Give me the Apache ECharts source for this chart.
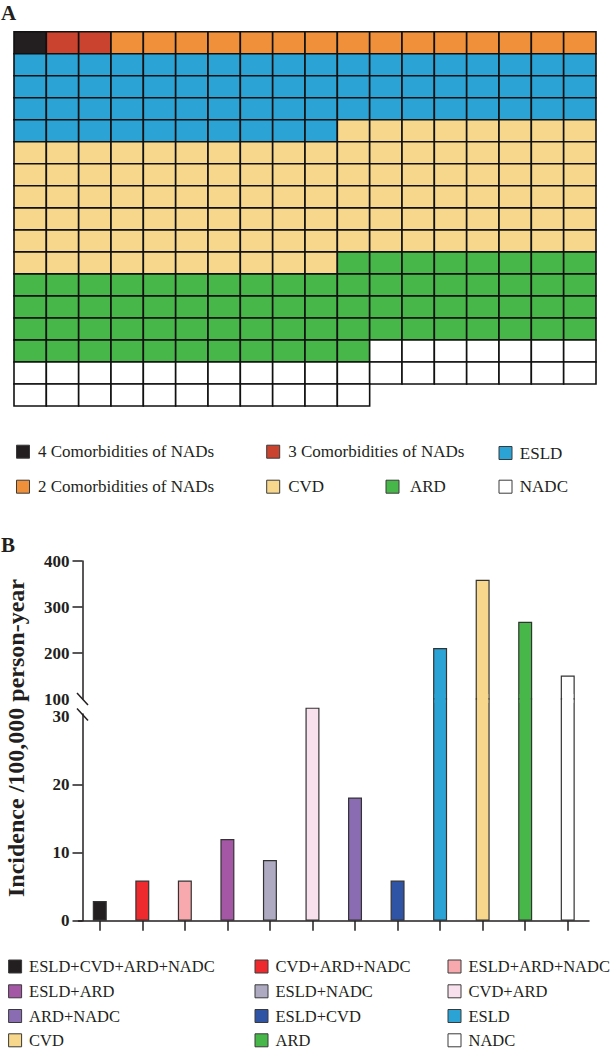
<!DOCTYPE html>
<html>
<head>
<meta charset="utf-8">
<script src="https://cdn.jsdelivr.net/npm/echarts@6/dist/echarts.min.js"></script>
<style>
html,body{margin:0;padding:0;background:#ffffff;}
#chart{width:614px;height:1049px;}
</style>
</head>
<body>
<div id="chart"></div>
<script>
// ---------------- DATA ----------------
const waffleCategories = ['4 Comorbidities of NADs', '3 Comorbidities of NADs', '2 Comorbidities of NADs', 'ESLD', 'CVD', 'ARD', 'NADC'];
const waffleCounts = [1, 2, 15, 64, 108, 73, 36];
const waffleColors = ['#231f20', '#c9432f', '#f0903a', '#2ba3d5', '#f7d78b', '#48b74a', '#ffffff'];
const waffleColumns = 18;
const waffleRows = 17;

const barCategories = ['ESLD+CVD+ARD+NADC', 'CVD+ARD+NADC', 'ESLD+ARD+NADC', 'ESLD+ARD', 'ESLD+NADC', 'CVD+ARD',
  'ARD+NADC', 'ESLD+CVD', 'ESLD', 'CVD', 'ARD', 'NADC'];
const barValues = [2.9, 5.9, 5.9, 12.0, 8.9, 31.3, 18.1, 5.9, 211, 359, 268, 151];
const barColors = ['#231f20', '#ee2a2e', '#f7a9ae', '#a457a4', '#aeaac1', '#f9e0ed', '#8a6cb3', '#3054a5', '#2ba3d5', '#f7d78b', '#48b74a', '#ffffff'];
const upperTickLabels = [100, 200, 300, 400];
const lowerTickLabels = [0, 10, 20, 30];

// ---------------- LAYOUT ----------------
const FONT = '"Liberation Serif", "Times New Roman", Times, serif';
const INK = '#231f20';
const GRID_LEFT = 78.5, GRID_RIGHT = 25, AXIS_SHIFT = 4;
const UPPER_TOP = 561, UPPER_BOTTOM = 699;
const ZERO_Y = 920.7, LOWER_PPU = 6.807;
const LOWER_AXIS_TOP = 714;
const lowerDataMax = (ZERO_Y - UPPER_BOTTOM) / LOWER_PPU;
const lowerAxisMax = (ZERO_Y - LOWER_AXIS_TOP) / LOWER_PPU;
const PATCH_BASE = 32.0, PATCH_SIZE = 1.3;
const BAR_W = 14, BAR_BORDER = 1.2, PATCH_W = 11.2;

// waffle cells from counts
const waffleCells = [];
let cellIndex = 0;
waffleCounts.forEach(function (n, ci) {
  for (let k = 0; k < n; k++) {
    waffleCells.push([cellIndex % waffleColumns, Math.floor(cellIndex / waffleColumns), ci]);
    cellIndex++;
  }
});

const colIdx = Array.from({length: waffleColumns}, (_, i) => i);
const rowIdx = Array.from({length: waffleRows}, (_, i) => i);

const upperData = barValues.map(v => v > lowerDataMax ? v : '-');
const patchBaseData = barValues.map(v => v > lowerDataMax ? PATCH_BASE : '-');
const patchData = barValues.map(v => v > lowerDataMax ? PATCH_SIZE : '-');

const barColorFn = p => barColors[p.dataIndex];

// legends as graphics
function legendItem(x, y, color, label, textDx, fontSize) {
  return {
    type: 'group', x: x, y: y,
    children: [
      {type: 'rect', shape: {x: 0, y: -6.5, width: 13, height: 13}, style: {fill: color, stroke: '#3a3a3a', lineWidth: 1}},
      {type: 'text', x: textDx, y: 0, style: {text: label, font: fontSize + 'px ' + FONT, fill: INK, verticalAlign: 'middle', align: 'left'}}
    ]
  };
}
const legendA = [
  [0, 16.5, 451.7, 21.5], [1, 266.7, 451.7, 21.5], [3, 499, 453, 20.8],
  [2, 16.5, 486.7, 21.5], [4, 266.7, 486.7, 21.5], [5, 386, 486.7, 24], [6, 499, 486.7, 20.8]
].map(a => legendItem(a[1], a[2], waffleColors[a[0]], waffleCategories[a[0]], a[3], 17));

const legendBcols = [8.6, 255, 448];
const legendBrows = [966.5, 991.3, 1016, 1040.3];
const legendB = barCategories.map((name, i) =>
  legendItem(legendBcols[i % 3], legendBrows[Math.floor(i / 3)], barColors[i], name, 20.5, 16.5));

const valueAxisLabel = {
  color: INK, fontFamily: FONT, fontWeight: 'bold', fontSize: 17, lineHeight: 15, margin: 13
};

const chart = echarts.init(document.getElementById('chart'), null, {renderer: 'svg'});
chart.setOption({
  animation: false,
  backgroundColor: '#ffffff',
  grid: [
    {left: GRID_LEFT, right: GRID_RIGHT, top: UPPER_TOP, height: UPPER_BOTTOM - UPPER_TOP},
    {left: GRID_LEFT, right: GRID_RIGHT, top: UPPER_BOTTOM, height: ZERO_Y - UPPER_BOTTOM},
    {left: GRID_LEFT, right: GRID_RIGHT, top: LOWER_AXIS_TOP, height: ZERO_Y - LOWER_AXIS_TOP},
    {left: 14, top: 31.7, width: 582, height: 374.3}
  ],
  xAxis: [
    {gridIndex: 0, type: 'category', data: barCategories, show: false},
    {gridIndex: 1, type: 'category', data: barCategories, show: false},
    {gridIndex: 2, type: 'category', data: barCategories,
      axisLine: {show: true, lineStyle: {color: INK, width: 1.5}},
      axisTick: {show: true, alignWithLabel: true, interval: 0, length: 10, lineStyle: {color: INK, width: 1.5}},
      axisLabel: {show: false}, splitLine: {show: false}},
    {gridIndex: 3, type: 'category', data: colIdx, show: false}
  ],
  yAxis: [
    {gridIndex: 0, type: 'value', min: 100, max: 400, interval: 100, offset: -AXIS_SHIFT,
      axisLine: {show: true, lineStyle: {color: INK, width: 1.5}},
      axisTick: {show: true, length: 10, customValues: upperTickLabels.slice(1), lineStyle: {color: INK, width: 1.5}},
      axisLabel: Object.assign({customValues: upperTickLabels}, valueAxisLabel),
      splitLine: {show: false}},
    {gridIndex: 1, type: 'value', min: 0, max: lowerDataMax, show: false},
    {gridIndex: 2, type: 'value', min: 0, max: lowerAxisMax, offset: -AXIS_SHIFT,
      axisLine: {show: true, lineStyle: {color: INK, width: 1.5}},
      axisTick: {show: true, length: 10, customValues: lowerTickLabels.slice(0, 3), lineStyle: {color: INK, width: 1.5}},
      axisLabel: Object.assign({customValues: lowerTickLabels}, valueAxisLabel),
      splitLine: {show: false}},
    {gridIndex: 3, type: 'category', data: rowIdx, inverse: true, show: false}
  ],
  series: [
    {type: 'bar', xAxisIndex: 0, yAxisIndex: 0, data: upperData, barWidth: BAR_W,
      itemStyle: {color: barColorFn, borderColor: '#333333', borderWidth: BAR_BORDER}},
    {type: 'bar', xAxisIndex: 1, yAxisIndex: 1, data: barValues, barWidth: BAR_W, clip: true,
      itemStyle: {color: barColorFn, borderColor: '#333333', borderWidth: BAR_BORDER}},
    {type: 'bar', xAxisIndex: 2, yAxisIndex: 2, data: patchBaseData, stack: 'patch', barWidth: PATCH_W,
      clip: false, silent: true, itemStyle: {color: 'rgba(0,0,0,0)'}},
    {type: 'bar', xAxisIndex: 2, yAxisIndex: 2, data: patchData, stack: 'patch', barWidth: PATCH_W,
      clip: false, silent: true, z: 5, itemStyle: {color: barColorFn, borderWidth: 0}},
    {type: 'custom', xAxisIndex: 3, yAxisIndex: 3, data: waffleCells,
      renderItem: function (params, api) {
        const c = api.coord([api.value(0), api.value(1)]);
        const s = api.size([1, 1]);
        return {type: 'rect', shape: {x: c[0] - s[0] / 2, y: c[1] - s[1] / 2, width: s[0], height: s[1]},
          style: {fill: waffleColors[api.value(2)], stroke: '#111111', lineWidth: 1.6}};
      }}
  ]
});

// axis break marks + texts + legends (positions of breaks taken from the axes)
const axisX = GRID_LEFT + AXIS_SHIFT;
const y100 = chart.convertToPixel({yAxisIndex: 0}, 100);
const y30 = chart.convertToPixel({yAxisIndex: 2}, 30);
chart.setOption({
  graphic: [
    {id: 'labelA', type: 'text', left: 1, top: 2, style: {text: 'A', font: 'bold 21px ' + FONT, fill: INK}},
    {id: 'labelB', type: 'text', left: 1, top: 534, style: {text: 'B', font: 'bold 21px ' + FONT, fill: INK}},
    {id: 'yTitle', type: 'text', x: 16, y: 738, rotation: Math.PI / 2,
      style: {text: 'Incidence /100,000 person-year', font: 'bold 24px ' + FONT, fill: INK, align: 'center', verticalAlign: 'middle'}},
    {id: 'brk1', type: 'line', z: 10, shape: {x1: axisX - 5.5, y1: y100 - 6, x2: axisX + 5.5, y2: y100 + 6}, style: {stroke: INK, lineWidth: 1.5}},
    {id: 'brk2', type: 'line', z: 10, shape: {x1: axisX - 5.5, y1: y30 - 8, x2: axisX + 5.5, y2: y30 + 4}, style: {stroke: INK, lineWidth: 1.5}}
  ].concat(legendA, legendB)
});
</script>
</body>
</html>
